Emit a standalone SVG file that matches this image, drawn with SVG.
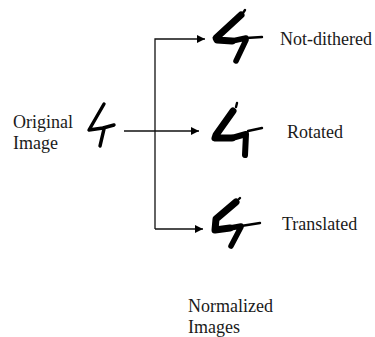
<svg xmlns="http://www.w3.org/2000/svg" width="375" height="337" viewBox="0 0 375 337">
<style>
text{font-family:"Liberation Serif","Times New Roman",serif;font-size:18px;fill:#1a1a1a}
.c{fill:none;stroke:#111;stroke-width:1.3}
.g{fill:none;stroke:#000;stroke-linecap:round;stroke-linejoin:round}
.a{fill:#000}
</style>
<defs>
<marker id="arrow" markerUnits="userSpaceOnUse" markerWidth="9" markerHeight="8" refX="8" refY="4" orient="auto"><path class="a" d="M0 0L8 4L0 8Z"/></marker>
</defs>
<rect width="375" height="337" fill="#fff"/>
<g id="connectors">
<path class="c" d="M155 229V39H205" marker-end="url(#arrow)"/>
<path class="c" d="M124 131H199" marker-end="url(#arrow)"/>
<path class="c" d="M155 229H203" marker-end="url(#arrow)"/>
</g>
<g id="original">
<text x="13" y="128">Original</text>
<text x="13" y="149">Image</text>
<path class="g" stroke-width="3.4" d="M104 104L89 130L103 128M103 128L114 125M104 129L100 146"/>
</g>
<g id="not-dithered">
<path class="g" stroke-width="7" d="M241 15L216 38L217 40L232 41"/>
<path class="g" stroke-width="5.5" d="M232 41L246 38M246 40L236 61"/>
<path class="g" stroke-width="2.4" d="M243 13L245 10M246 38L262 37"/>
<text x="280" y="45">Not-dithered</text>
</g>
<g id="rotated">
<path class="g" stroke-width="7" d="M233 111L216 135L215 138L232 138"/>
<path class="g" stroke-width="6" d="M232 138L246 134M246 134L245 155"/>
<path class="g" stroke-width="2.4" d="M236 107L237 103M248 131L262 128"/>
<text x="287" y="138">Rotated</text>
</g>
<g id="translated">
<path class="g" stroke-width="7" d="M236 202L216 219L215 230L230 228"/>
<path class="g" stroke-width="5.5" d="M230 228L241 226M241 227L231 246"/>
<path class="g" stroke-width="2.4" d="M239 199L240 198M241 226L260 223"/>
<text x="282" y="230">Translated</text>
</g>
<g id="normalized">
<text x="188" y="312">Normalized</text>
<text x="188" y="333">Images</text>
</g>
</svg>
